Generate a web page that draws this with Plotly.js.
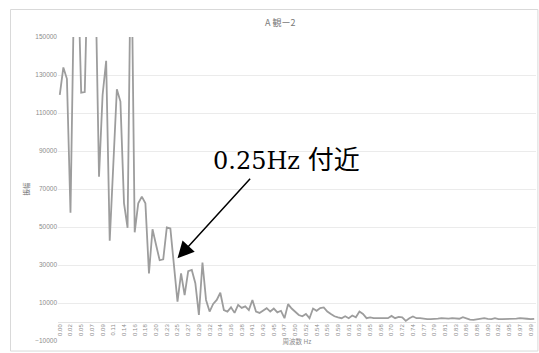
<!DOCTYPE html>
<html>
<head>
<meta charset="utf-8">
<script src="https://cdn.plot.ly/plotly-3.0.1.min.js"></script>
<style>html,body{margin:0;padding:0;background:#fff;}#chart{width:539px;height:353px;}</style>
</head>
<body>
<div id="chart"></div>
<script>
// Frequency of each point (Hz)
const freq = [
0.0000,0.0075,0.0150,0.0225,0.0300,0.0375,0.0450,0.0525,0.0600,0.0675,
0.0750,0.0825,0.0900,0.0975,0.1050,0.1125,0.1200,0.1275,0.1350,0.1425,
0.1500,0.1575,0.1650,0.1725,0.1800,0.1875,0.1950,0.2025,0.2100,0.2175,
0.2250,0.2325,0.2400,0.2475,0.2550,0.2625,0.2700,0.2775,0.2850,0.2925,
0.3000,0.3075,0.3150,0.3225,0.3300,0.3375,0.3450,0.3525,0.3600,0.3675,
0.3750,0.3825,0.3900,0.3975,0.4050,0.4125,0.4200,0.4275,0.4350,0.4425,
0.4500,0.4575,0.4650,0.4725,0.4800,0.4875,0.4950,0.5025,0.5100,0.5175,
0.5250,0.5325,0.5400,0.5475,0.5550,0.5625,0.5700,0.5775,0.5850,0.5925,
0.6000,0.6075,0.6150,0.6225,0.6300,0.6375,0.6450,0.6525,0.6600,0.6675,
0.6750,0.6825,0.6900,0.6975,0.7050,0.7125,0.7200,0.7275,0.7350,0.7425,
0.7500,0.7575,0.7650,0.7725,0.7800,0.7875,0.7950,0.8025,0.8100,0.8175,
0.8250,0.8325,0.8400,0.8475,0.8550,0.8625,0.8700,0.8775,0.8850,0.8925,
0.9000,0.9075,0.9150,0.9225,0.9300,0.9375,0.9450,0.9525,0.9600,0.9675,
0.9750,0.9825,0.9900,0.9975
];

// Amplitude (values above 150000 are clipped in the chart)
const amplitude = [
119500,134000,128000,57500,175000,190000,120700,121000,200000,220000,
180000,76500,119500,137500,42800,83700,122500,116000,62600,49600,
210000,47200,62500,66000,62500,25600,48800,40500,32500,33000,
49800,49200,31000,10700,25600,14200,26800,27400,20400,3700,
31300,11600,5500,9500,11600,15400,6300,5500,7700,4800,
9000,7400,8200,6300,11600,5500,4800,5900,7300,5500,
7100,5100,5900,2000,9400,7100,5500,3700,3000,4200,
2000,7100,5900,7300,7700,5500,4200,3000,2400,2000,
3000,2000,3400,2500,5500,4200,2000,2400,2000,2000,
2000,1700,2000,3200,2000,2700,2500,600,2000,2900,
2000,2000,1700,1500,1500,1500,1800,2000,1700,1800,
2000,1800,1700,2500,1800,1300,1100,1500,1700,2000,
1700,1500,2000,1500,1500,1500,1500,1500,1800,2000,
2000,1700,1500,1700
];

// Category tick labels (every third point)
const tickLabels = [
"0.00","0.02","0.05","0.07","0.09","0.11","0.14","0.16","0.18","0.20",
"0.23","0.25","0.27","0.29","0.32","0.34","0.36","0.38","0.41","0.43",
"0.45","0.47","0.50","0.52","0.54","0.56","0.59","0.61","0.63","0.65",
"0.68","0.70","0.72","0.74","0.77","0.79","0.81","0.83","0.86","0.88",
"0.90","0.92","0.95","0.97","0.99"
];
const tickVals = freq.filter((f, i) => i % 3 === 0);

const chartTitle = "A 観ー2";
const xTitle = "周波数 Hz";
const yTitle = "振幅";
const noteText = "0.25Hz 付近";
const noteFreq = 0.2475;
const noteValue = 33500;

const trace = {
  type: 'scatter',
  mode: 'lines',
  x: freq,
  y: amplitude,
  line: {color: '#9d9d9d', width: 1.8},
  hoverinfo: 'skip'
};

const layout = {
  width: 539,
  height: 353,
  margin: {l: 58, r: 3, t: 37, b: 12},
  paper_bgcolor: '#ffffff',
  plot_bgcolor: '#ffffff',
  showlegend: false,
  font: {family: 'Noto Sans CJK JP, Liberation Sans, sans-serif', color: '#8c8c8c', size: 6.5},
  title: {
    text: chartTitle,
    font: {family: 'Noto Sans CJK JP, sans-serif', size: 9, color: '#7a7a7a'},
    x: 0.52, xref: 'container', xanchor: 'center',
    y: 0.935, yref: 'container', yanchor: 'middle'
  },
  xaxis: {
    range: [-0.00375, 1.00125],
    tickvals: tickVals,
    ticktext: tickLabels,
    tickangle: -90,
    tickfont: {size: 6, color: '#8c8c8c', family: 'Liberation Sans, sans-serif'},
    showgrid: false,
    zeroline: false,
    showline: false,
    ticks: '',
    anchor: 'free',
    position: 0.0625,
    title: {text: xTitle, font: {size: 6.5, color: '#8c8c8c'}, standoff: 3}
  },
  yaxis: {
    range: [-10000, 150000],
    tick0: -10000,
    dtick: 20000,
    tickformat: 'd',
    tickfont: {size: 6.5, color: '#8c8c8c', family: 'Liberation Sans, sans-serif'},
    showgrid: true,
    gridcolor: '#ebebeb',
    gridwidth: 1,
    zeroline: true,
    zerolinecolor: '#e3e3e3',
    zerolinewidth: 1,
    showline: false,
    ticks: '',
    title: {text: yTitle, font: {size: 6.5, color: '#6e6e6e'}, standoff: 4}
  },
  shapes: [{
    type: 'rect', xref: 'paper', yref: 'paper',
    x0: -0.0994, x1: 1.004, y0: -0.033, y1: 1.0905,
    line: {color: '#d9d9d9', width: 1}, fillcolor: 'rgba(0,0,0,0)', layer: 'below'
  }],
  annotations: [
    {
      xref: 'paper', yref: 'paper',
      x: (286.3 - 58) / 478, y: (341 - 157) / 304,
      xanchor: 'center', yanchor: 'middle',
      text: '<span style="font-family:DejaVu Serif">0.25Hz</span> <span style="font-family:Noto Sans CJK JP;font-size:26px">付近</span>',
      showarrow: false,
      font: {family: 'DejaVu Serif, serif', size: 24, color: '#000000'}
    },
    {
      x: noteFreq, y: noteValue, xref: 'x', yref: 'y',
      text: '', showarrow: true,
      ax: 74, ay: -81,
      arrowhead: 2, arrowsize: 2.2, arrowwidth: 1.5, arrowcolor: '#000000',
      standoff: 0
    }
  ]
};

Plotly.newPlot('chart', [trace], layout, {displayModeBar: false, staticPlot: true});
</script>
</body>
</html>
